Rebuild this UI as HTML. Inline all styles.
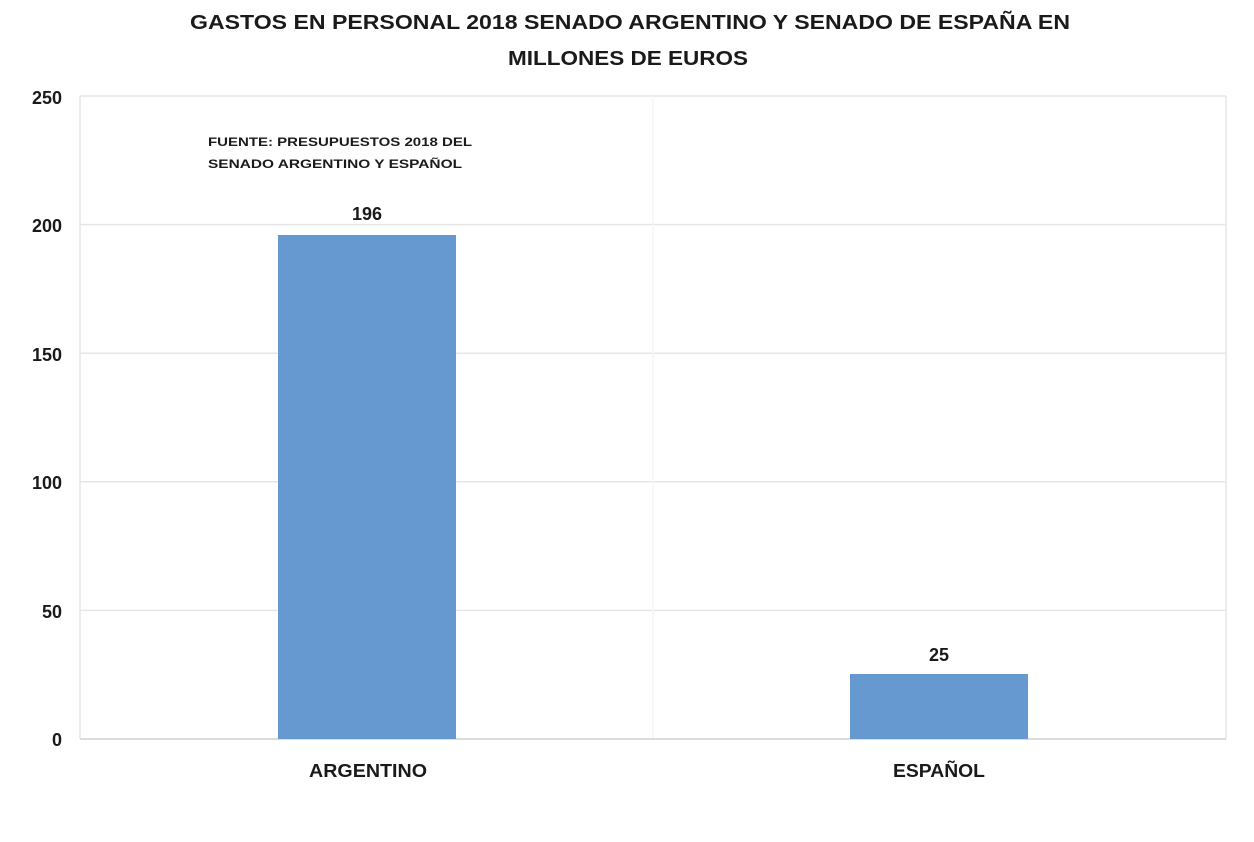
<!DOCTYPE html>
<html><head><style>body{margin:0;background:#fff}svg{display:block}</style></head>
<body>
<svg width="1254" height="842" xmlns="http://www.w3.org/2000/svg" font-family="Liberation Sans, sans-serif" font-weight="bold">
<rect width="1254" height="842" fill="#fff"/>
<text x="190" y="29" font-size="20" fill="#1a1a1a" textLength="880" lengthAdjust="spacingAndGlyphs">GASTOS  EN PERSONAL 2018 SENADO ARGENTINO Y SENADO DE ESPAÑA EN</text>
<text x="508" y="65" font-size="20" fill="#1a1a1a" textLength="240" lengthAdjust="spacingAndGlyphs">MILLONES DE EUROS</text>
<g stroke="#e6e6e6" stroke-width="1.5">
<line x1="80" y1="96" x2="1226" y2="96"/>
<line x1="80" y1="224.6" x2="1226" y2="224.6"/>
<line x1="80" y1="353.2" x2="1226" y2="353.2"/>
<line x1="80" y1="481.8" x2="1226" y2="481.8"/>
<line x1="80" y1="610.4" x2="1226" y2="610.4"/>
<line x1="80" y1="96" x2="80" y2="739"/>
<line x1="1226" y1="96" x2="1226" y2="739"/>
<line x1="653" y1="96" x2="653" y2="739" stroke="#f6f6f6"/>
</g>
<line x1="80" y1="739" x2="1226" y2="739" stroke="#d0d0d0" stroke-width="1.5"/>
<g font-size="18" fill="#1a1a1a" text-anchor="end">
<text x="62" y="104">250</text>
<text x="62" y="232">200</text>
<text x="62" y="361">150</text>
<text x="62" y="489">100</text>
<text x="62" y="618">50</text>
<text x="62" y="746">0</text>
</g>
<rect x="278" y="235" width="178" height="504" fill="#6699cf"/>
<rect x="850" y="674" width="178" height="65" fill="#6699cf"/>
<text x="367" y="220" text-anchor="middle" font-size="18" fill="#1a1a1a">196</text>
<text x="939" y="661" text-anchor="middle" font-size="18" fill="#1a1a1a">25</text>
<text x="309" y="777" font-size="18" fill="#1a1a1a" textLength="118" lengthAdjust="spacingAndGlyphs">ARGENTINO</text>
<text x="893" y="777" font-size="18" fill="#1a1a1a" textLength="92" lengthAdjust="spacingAndGlyphs">ESPAÑOL</text>
<text x="208" y="146" font-size="12" fill="#1a1a1a" textLength="264" lengthAdjust="spacingAndGlyphs">FUENTE: PRESUPUESTOS 2018  DEL</text>
<text x="208" y="168" font-size="12" fill="#1a1a1a" textLength="254" lengthAdjust="spacingAndGlyphs">SENADO ARGENTINO Y ESPAÑOL</text>
</svg>
</body></html>
